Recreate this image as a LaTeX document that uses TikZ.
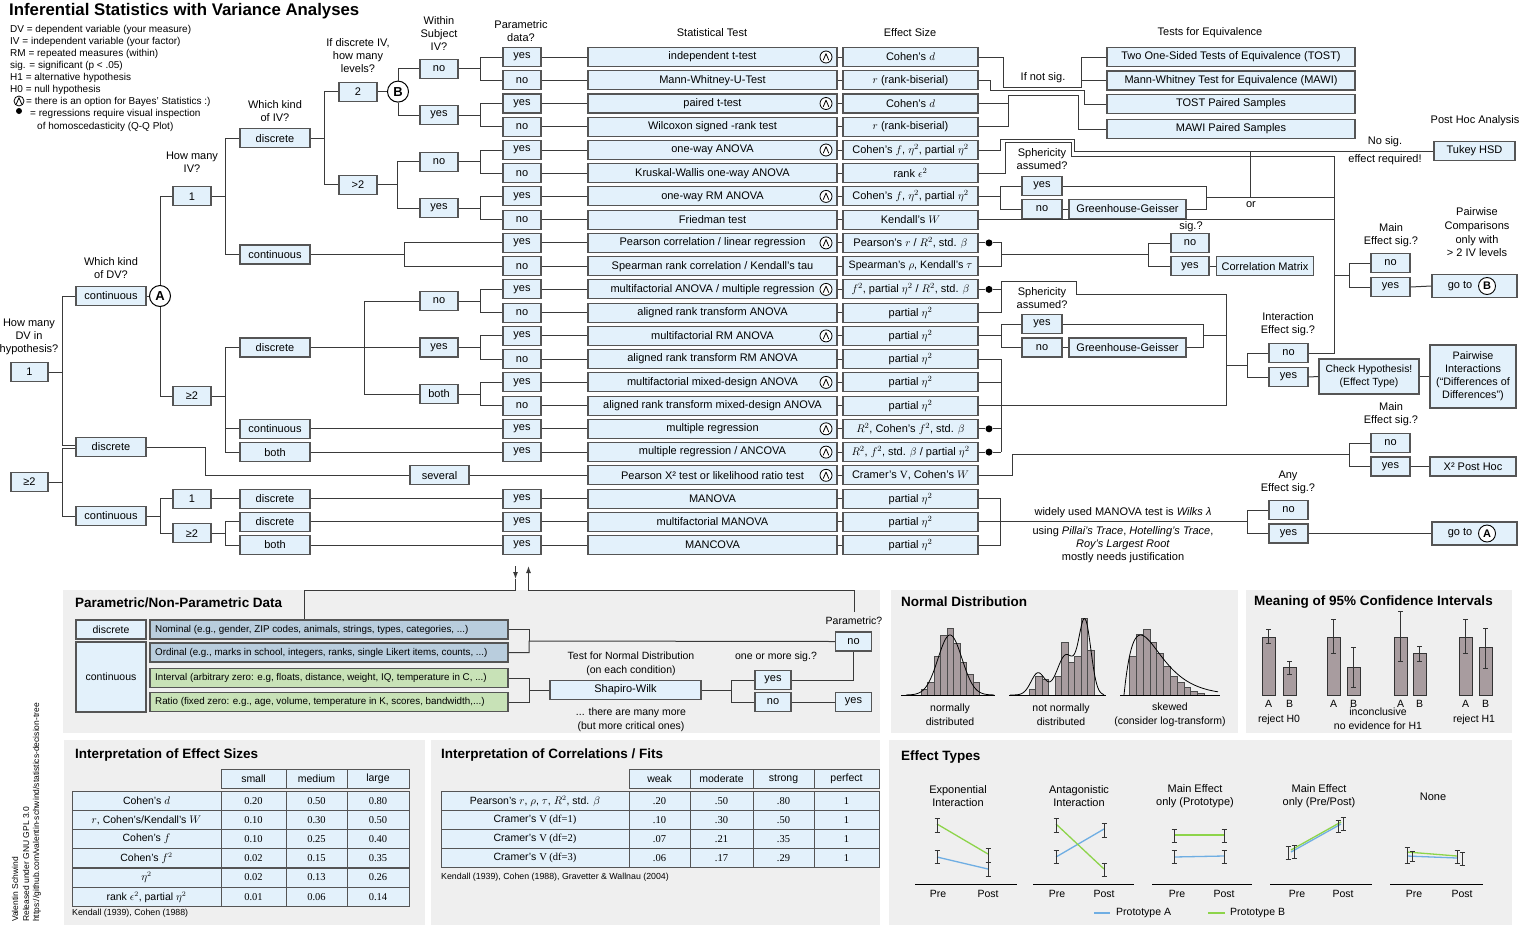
\documentclass[tikz,border=0pt]{standalone}
\usepackage{fontspec}
\setmainfont{Liberation Sans}
\newfontfamily\serif{Liberation Serif}
\usetikzlibrary{arrows.meta}
\definecolor{bf}{HTML}{E3F1FB}
\definecolor{bc}{HTML}{555555}
\definecolor{lc}{HTML}{3A3A3A}
\definecolor{panel}{HTML}{EFEFEF}
\definecolor{nomc}{HTML}{B9CDDD}
\definecolor{intc}{HTML}{C8E2B7}
\definecolor{barc}{HTML}{A89C9F}
\definecolor{protA}{HTML}{6FAEE3}
\definecolor{protB}{HTML}{8DD44A}
\newcommand\fs[2]{\fontsize{#1}{#2}\selectfont}
\newcommand\rowT[4]{%
  \node[box,minimum width=249pt] (t#1) at (712.5,#2) {#3};
  \node[box,minimum width=135pt] (e#1) at (910.5,#2) {#4};}
\newcommand\pnode[3]{\node[box,minimum width=38pt] (p#1) at (522,#2) {#3};}
\newcommand\ebar[3]{\draw[eb] (#1,#2) -- (#1,#3) (#1-2.5,#2) -- (#1+2.5,#2) (#1-2.5,#3) -- (#1+2.5,#3);}
\begin{document}
\begin{tikzpicture}[x=1pt,y=-1pt,
  ln/.style={draw=lc,line width=1pt},
  box/.style={draw=bc,fill=bf,line width=1.1pt,minimum height=19pt,inner sep=1pt,font=\fs{11}{13}},
  lab/.style={font=\fs{11}{13},align=center,inner sep=0pt},
  leg/.style={font=\fs{10}{11},anchor=west,inner sep=0pt},
  circ/.style={circle,draw=black,fill=white,line width=1pt,minimum size=21pt,inner sep=0pt,font=\bfseries\fs{13}{13}},
  bayes/.style={circle,draw=black,fill=white,line width=0.8pt,minimum size=12pt,inner sep=0pt,
    path picture={\draw[line width=0.8pt,line join=round] ([xshift=-2.8pt,yshift=-3.3pt]path picture bounding box.center) -- ([yshift=3.3pt]path picture bounding box.center) -- ([xshift=2.8pt,yshift=-3.3pt]path picture bounding box.center);}},
  dotn/.style={circle,fill=black,inner sep=0pt,minimum size=7pt},
  ptitle/.style={font=\bfseries\fs{13.5}{15},anchor=west,inner sep=0pt},
  small/.style={font=\fs{10.5}{14},align=center,inner sep=0pt},
  tcell/.style={draw=bc,fill=bf,line width=0.9pt,minimum height=19pt,inner sep=0pt,font=\fs{10.5}{11}},
  bar/.style={draw=black!70,fill=barc,line width=0.5pt},
  eb/.style={draw=black!80,line width=0.9pt},
  txt/.style={inner sep=0pt,anchor=west},
  pl/.style={line width=1.3pt}
]
\useasboundingbox (0,0) rectangle (1521,927);
\fill[white] (0,0) rectangle (1521,927);
% panels
\fill[panel] (63,590) rectangle (880,733);
\fill[panel] (891,590) rectangle (1238,733);
\fill[panel] (1246,590) rectangle (1512,733);
\fill[panel] (64,740) rectangle (425,925);
\fill[panel] (431,740) rectangle (880,925);
\fill[panel] (889,740) rectangle (1512,925);

% title & legend
\node[anchor=base west,font=\bfseries\fs{16.8}{18},inner sep=0pt] (title) at (9,15.5) {Inferential Statistics with Variance Analyses};
\node[leg] (lg1) at (10,30) {DV = dependent variable (your measure)};
\node[leg] (lg2) at (10,42) {IV = independent variable (your factor)};
\node[leg] (lg3) at (10,54) {RM = repeated measures (within)};
\node[leg] (lg4) at (10,66) {sig. = significant (p < .05)};
\node[leg] (lg5) at (10,78) {H1 = alternative hypothesis};
\node[leg] (lg6) at (10,90) {H0 = null hypothesis};
\node[bayes,minimum size=10pt] (lgb) at (19,101) {};
\node[leg] (lg7) at (26,101.5) {= there is an option for Bayes' Statistics :)};
\node[dotn,minimum size=6pt] (lgd) at (19,111) {};
\node[leg] (lg8) at (30,114) {= regressions require visual inspection};
\node[leg] (lg9) at (37,127) {of homoscedasticity (Q-Q Plot)};

% question labels
\node[lab] (q1l) at (29,336.5) {How many\\DV in\\hypothesis?};
\node[lab] (q2l) at (111,268.5) {Which kind\\of DV?};
\node[lab] (q3l) at (192,162.5) {How many\\IV?};
\node[lab] (q4l) at (275,111.5) {Which kind\\of IV?};
\node[lab] (q5l) at (358,56) {If discrete IV,\\how many\\levels?};
\node[lab] (q6l) at (439,34) {Within\\Subject\\IV?};
\node[lab] (q7l) at (521,31.5) {Parametric\\data?};
\node[lab] (q8l) at (712,33) {Statistical Test};
\node[lab] (q9l) at (910,33) {Effect Size};

% tree nodes
\node[box,minimum width=37pt] (dv1) at (29.5,372) {1};
\node[box,minimum width=37pt] (dv2) at (29.5,482) {≥2};
\node[box,minimum width=70pt] (k1) at (111,296) {continuous};
\node[box,minimum width=70pt] (k2) at (111,447) {discrete};
\node[box,minimum width=70pt] (k3) at (111,516) {continuous};
\node[circ] (A) at (160,296) {A};
\node[box,minimum width=38pt] (n1) at (192,196.4) {1};
\node[box,minimum width=38pt] (n2) at (192,396) {≥2};
\node[box,minimum width=38pt] (n3) at (192,498.6) {1};
\node[box,minimum width=38pt] (n4) at (192,533.4) {≥2};
\node[box,minimum width=70pt] (i1) at (275,138.4) {discrete};
\node[box,minimum width=70pt] (i2) at (275,254.5) {continuous};
\node[box,minimum width=70pt] (i3) at (275,347.5) {discrete};
\node[box,minimum width=70pt] (i4) at (275,428.8) {continuous};
\node[box,minimum width=70pt] (i5) at (275,452.1) {both};
\node[box,minimum width=70pt] (i6) at (275,498.6) {discrete};
\node[box,minimum width=70pt] (i7) at (275,521.8) {discrete};
\node[box,minimum width=70pt] (i8) at (275,545) {both};
\node[box,minimum width=38pt] (l1) at (358,91.6) {2};
\node[box,minimum width=38pt] (l2) at (358,184.8) {>2};
\node[circ] (B) at (398,91.6) {B};
\node[box,minimum width=38pt] (w1) at (439,68.6) {no};
\node[box,minimum width=38pt] (w2) at (439,115.1) {yes};
\node[box,minimum width=38pt] (w3) at (439,161.6) {no};
\node[box,minimum width=38pt] (w4) at (439,208) {yes};
\node[box,minimum width=38pt] (w5) at (439,301) {no};
\node[box,minimum width=38pt] (w6) at (439,347.5) {yes};
\node[box,minimum width=38pt] (w7) at (439,394) {both};
\node[box,minimum width=59pt] (sev) at (439.5,475.3) {several};

\pnode{1}{57}{yes} \pnode{2}{80.2}{no} \pnode{3}{103.5}{yes} \pnode{4}{126.7}{no}
\pnode{5}{150}{yes} \pnode{6}{173.2}{no} \pnode{7}{196.4}{yes} \pnode{8}{219.7}{no}
\pnode{9}{242.9}{yes} \pnode{10}{266.2}{no} \pnode{11}{289.4}{yes} \pnode{12}{312.6}{no}
\pnode{13}{335.9}{yes} \pnode{14}{359.1}{no} \pnode{15}{382.4}{yes} \pnode{16}{405.6}{no}
\pnode{17}{428.8}{yes} \pnode{18}{452.1}{yes} \pnode{20}{498.6}{yes} \pnode{21}{521.8}{yes}
\pnode{22}{545}{yes}

\rowT{1}{57}{independent t-test}{Cohen's $d$}
\rowT{2}{80.2}{Mann-Whitney-U-Test}{$r$ (rank-biserial)}
\rowT{3}{103.5}{paired t-test}{Cohen's $d$}
\rowT{4}{126.7}{Wilcoxon signed -rank test}{$r$ (rank-biserial)}
\rowT{5}{150}{one-way ANOVA}{Cohen's $f$, $\eta^2$, partial $\eta^2$}
\rowT{6}{173.2}{Kruskal-Wallis one-way ANOVA}{rank $\epsilon^2$}
\rowT{7}{196.4}{one-way RM ANOVA}{Cohen's $f$, $\eta^2$, partial $\eta^2$}
\rowT{8}{219.7}{Friedman test}{Kendall's $W$}
\rowT{9}{242.9}{Pearson correlation / linear regression\hspace{8pt}}{Pearson's $r$ / $R^2$, std. $\beta$}
\rowT{10}{266.2}{Spearman rank correlation / Kendall's tau}{\fs{10.7}{12}Spearman's $\rho$, Kendall's $\tau$}
\rowT{11}{289.4}{multifactorial ANOVA / multiple regression\hspace{8pt}}{$f^2$, partial $\eta^2$ / $R^2$, std. $\beta$}
\rowT{12}{312.6}{aligned rank transform ANOVA}{partial $\eta^2$}
\rowT{13}{335.9}{multifactorial RM ANOVA}{partial $\eta^2$}
\rowT{14}{359.1}{aligned rank transform RM ANOVA}{partial $\eta^2$}
\rowT{15}{382.4}{multifactorial mixed-design ANOVA}{partial $\eta^2$}
\rowT{16}{405.6}{aligned rank transform mixed-design ANOVA}{partial $\eta^2$}
\rowT{17}{428.8}{multiple regression}{$R^2$, Cohen's $f^2$, std. $\beta$}
\rowT{18}{452.1}{multiple regression / ANCOVA}{$R^2$, $f^2$, std. $\beta$ / partial $\eta^2$}
\rowT{19}{475.3}{Pearson X² test or likelihood ratio test}{Cramer's {\serif V}, Cohen's $W$}
\rowT{20}{498.6}{MANOVA}{partial $\eta^2$}
\rowT{21}{521.8}{multifactorial MANOVA}{partial $\eta^2$}
\rowT{22}{545}{MANCOVA}{partial $\eta^2$}

\foreach \r/\yy in {1/57,3/103.5,5/150,7/196.4,9/242.9,11/289.4,13/335.9,15/382.4,17/428.8,18/452.1,19/475.3}
  \node[bayes] (bs\r) at (826,\yy) {};

% tree edges
\draw[ln] (dv1.east) -- (62,372) |- ([yshift=1.5pt]k2.west);
\draw[ln] (62,372) |- (k1.west);
\draw[ln] (dv2.east) -- (62,482) |- ([yshift=-1.5pt]k2.west);
\draw[ln] (62,482) |- (k3.west);
\draw[ln] (k1.east) -- (A);
\draw[ln] (A.north) |- (n1.west);
\draw[ln] (A.south) |- (n2.west);
\draw[ln] (k3.east) -- (160,516) |- (n3.west);
\draw[ln] (160,516) |- (n4.west);
\draw[ln] (k2.east) -- (205,447) |- (sev.west);
\draw[ln] (n1.east) -- (225,196.4) |- (i1.west);
\draw[ln] (225,196.4) |- (i2.west);
\draw[ln] (n2.east) -- (225,396) |- (i3.west);
\draw[ln] (225,396) |- (i4.west);
\draw[ln] (225,396) |- (i5.west);
\draw[ln] (n3.east) -- (i6.west);
\draw[ln] (n4.east) -- (225,533.4) |- (i7.west);
\draw[ln] (225,533.4) |- (i8.west);
\draw[ln] (i1.east) -- (324,138.4) |- (l1.west);
\draw[ln] (324,138.4) |- (l2.west);
\draw[ln] (i2.east) -- (404,254.5) |- (p9.west);
\draw[ln] (404,254.5) |- (p10.west);
\draw[ln] (i3.east) -- (364,347.5) |- (w5.west);
\draw[ln] (364,347.5) |- (w7.west);
\draw[ln] (364,347.5) -- (w6.west);
\draw[ln] (i4.east) -- (p17.west);
\draw[ln] (i5.east) -- (p18.west);
\draw[ln] (i6.east) -- (p20.west);
\draw[ln] (i7.east) -- (p21.west);
\draw[ln] (i8.east) -- (p22.west);
\draw[ln] (l1.east) -- (B);
\draw[ln] (B.north) |- (w1.west);
\draw[ln] (B.south) |- (w2.west);
\draw[ln] (l2.east) -- (397,184.8) |- (w3.west);
\draw[ln] (397,184.8) |- (w4.west);
\foreach \w/\a/\b in {w1/p1/p2,w2/p3/p4,w3/p5/p6,w4/p7/p8,w5/p11/p12,w6/p13/p14,w7/p15/p16}
  \draw[ln] (\w.east) -- ++(22,0) coordinate (m) |- (\a.west) (m) |- (\b.west);
\foreach \i in {1,...,18,20,21,22} \draw[ln] (p\i.east) -- (t\i.west);
\draw[ln] (sev.east) -- (t19.west);
\foreach \i in {1,...,22} \draw[ln] (t\i.east) -- (e\i.west);

% equivalence
\node[lab] (teq) at (1210,33) {Tests for Equivalence};
\node[box,minimum width=248pt] (q1) at (1231,57) {Two One-Sided Tests of Equivalence (TOST)};
\node[box,minimum width=248pt] (q2) at (1231,80.5) {Mann-Whitney Test for Equivalence (MAWI)};
\node[box,minimum width=248pt] (q3) at (1231,104) {TOST Paired Samples};
\node[box,minimum width=248pt] (q4) at (1231,129) {MAWI Paired Samples};
\node[lab] (ins) at (1043,78) {If not sig.};
\draw[ln] (e1.east) -| (1003,87) -| (1081,57) -- (q1.west);
\draw[ln] (1081,80.5) -- (q2.west);
\draw[ln] (e2.east) -| (990,90) -| (1084,104) -- (q3.west);
\draw[ln] (e3.east) -| (1008,95) -| (1078,129) -- (q4.west);
\draw[ln] (e4.east) -| (1008,103.5);

% post hoc
\node[lab] (pha) at (1475,121) {Post Hoc Analysis};
\node[box,minimum width=81pt] (tk) at (1474.5,151) {Tukey HSD};
\node[lab] (nse1) at (1385,142) {No sig.};
\node[lab] (nse2) at (1385,160) {effect required!};
\draw[ln] (e5.east) -| (1000,139) -| (1074,151) -- (tk.west);
\draw[ln] (e6.east) -| (1005,142) -| (1071,156) -- (1334,156);

% sphericity 1
\node[lab] (sph1) at (1042,159.5) {Sphericity\\assumed?};
\node[box,minimum width=40pt] (s1y) at (1042,186) {yes};
\node[box,minimum width=40pt] (s1n) at (1042,209) {no};
\node[box,minimum width=117pt] (gg1) at (1127.5,209) {Greenhouse-Geisser};
\draw[ln] (e7.east) -- (1000,196.4);
\draw[ln] (1000,196.4) |- (s1y.west);
\draw[ln] (1000,196.4) |- (s1n.west);
\draw[ln] (s1n.east) -- (gg1.west);
\draw[ln] (s1y.east) -| (1206,197.5);
\draw[ln] (gg1.east) -| (1206,197.5) -- (1334,197.5);
\draw[ln] (1250,151) -- (1250,197.5);
\node[lab] (orl) at (1251,205) {or};
\draw[ln] (e8.east) -- (1334,219.7);

% correlation
\node[dotn] (d9) at (989,242.9) {};
\draw[ln] (e9.east) -- (d9) -- (1001,242.9) -- (1001,266.2) -- (e10.east);
\draw[ln] (1001,254.5) -- (1148,254.5);
\node[lab] (sigq) at (1191,227) {sig.?};
\node[box,minimum width=38pt] (cno) at (1190,243) {no};
\node[box,minimum width=38pt] (cyes) at (1190,266.2) {yes};
\node[box,minimum width=97pt] (cm) at (1265,266.2) {Correlation Matrix};
\draw[ln] (1148,254.5) |- (cno.west);
\draw[ln] (1148,254.5) |- (cyes.west);
\draw[ln] (cyes.east) -- (cm.west);

% multifactorial group
\node[dotn] (d11) at (989,289.4) {};
\draw[ln] (e11.east) -- (d11) -- (1001,289.4);
\draw[ln] (e12.east) -| (1001,281) -| (1076,294) -| (1226,405.6);
\node[lab] (sph2) at (1042,298.5) {Sphericity\\assumed?};
\node[box,minimum width=40pt] (s2y) at (1042,324) {yes};
\node[box,minimum width=40pt] (s2n) at (1042,347.5) {no};
\node[box,minimum width=117pt] (gg2) at (1127.5,347.5) {Greenhouse-Geisser};
\draw[ln] (e13.east) -- (1001,335.9);
\draw[ln] (1001,335.9) |- (s2y.west);
\draw[ln] (1001,335.9) |- (s2n.west);
\draw[ln] (s2n.east) -- (gg2.west);
\draw[ln] (s2y.east) -| (1203,335.9);
\draw[ln] (gg2.east) -| (1203,335.9) -- (1226,335.9);
\node[dotn] (d17) at (989,428.8) {};
\node[dotn] (d18) at (989,452.1) {};
\draw[ln] (e14.east) -- (1001,359.1) -- (1001,452.1);
\draw[ln] (e15.east) -- (1001,382.4);
\draw[ln] (e16.east) -- (1001,405.6) -- (1226,405.6);
\draw[ln] (e17.east) -- (d17) -- (1001,428.8);
\draw[ln] (e18.east) -- (d18) -- (1001,452.1);

% interaction
\node[lab] (ies) at (1288,324.5) {Interaction\\Effect sig.?};
\node[box,minimum width=39pt] (ino) at (1288.5,353) {no};
\node[box,minimum width=39pt] (iyes) at (1288.5,377) {yes};
\draw[ln] (1226,365) -- (1247,365);
\draw[ln] (1247,365) |- (ino.west);
\draw[ln] (1247,365) |- (iyes.west);
\draw[ln] (ino.east) -| (1334,156);
\node[box,minimum width=100pt,minimum height=35pt,align=center,font=\fs{10.4}{13}] (ch) at (1369,376.5) {Check Hypothesis!\\(Effect Type)};
\node[box,minimum width=86pt,minimum height=63pt,align=center,font=\fs{10.8}{13}] (pwi) at (1473,376.5) {Pairwise\\Interactions\\(“Differences of\\Differences”)};
\draw[ln] (iyes.east) -- (ch.west);
\draw[ln] (ch.east) -- (pwi.west);

% main effect 1
\node[lab] (mes1) at (1391,235.5) {Main\\Effect sig.?};
\node[box,minimum width=39pt] (m1no) at (1390.5,263) {no};
\node[box,minimum width=39pt] (m1yes) at (1390.5,287) {yes};
\draw[ln] (1334,275) -- (1349,275);
\draw[ln] (1349,275) |- (m1no.west);
\draw[ln] (1349,275) |- (m1yes.west);
\node[lab,font=\fs{11}{13.7}] (pco) at (1477,232.5) {Pairwise\\Comparisons\\only with\\> 2 IV levels};
\node[box,minimum width=85pt,minimum height=23pt] (gB) at (1474.5,286) {};
\node[lab] (gBt) at (1460,286) {go to};
\node[circ,minimum size=17pt,line width=0.9pt,font=\bfseries\fs{11}{11}] (gBc) at (1487,286) {B};
\draw[ln] (m1yes.east) -- (gB.west);

% chi square
\draw[ln] (e19.east) -| (1012,454) -- (1349,454);
\node[lab] (mes2) at (1391,414.5) {Main\\Effect sig.?};
\node[box,minimum width=39pt] (m2no) at (1390.5,443) {no};
\node[box,minimum width=39pt] (m2yes) at (1390.5,466.5) {yes};
\draw[ln] (1349,454) |- (m2no.west);
\draw[ln] (1349,454) |- (m2yes.west);
\node[box,minimum width=86pt] (xph) at (1473,466.5) {X² Post Hoc};
\draw[ln] (m2yes.east) -- (xph.west);

% MANOVA
\draw[ln] (e20.east) -- (1000,498.6) -- (1000,545) -- (e22.east);
\draw[ln] (e21.east) -- (1247,521.8);
\node[lab] (aes) at (1288,482.5) {Any\\Effect sig.?};
\node[box,minimum width=39pt] (ano) at (1288.5,510) {no};
\node[box,minimum width=39pt] (ayes) at (1288.5,533.5) {yes};
\draw[ln] (1247,521.8) |- (ano.west);
\draw[ln] (1247,521.8) |- (ayes.west);
\node[box,minimum width=85pt,minimum height=23pt] (gA) at (1474.5,533.5) {};
\node[lab] (gAt) at (1460,533.5) {go to};
\node[circ,minimum size=17pt,line width=0.9pt,font=\bfseries\fs{11}{11}] (gAc) at (1487,533.5) {A};
\draw[ln] (ayes.east) -- (gA.west);
\node[lab] (mw1) at (1123,513) {widely used MANOVA test is \textit{Wilks λ}};
\node[lab] (mw2) at (1123,545) {using \textit{Pillai's Trace}, \textit{Hotelling's Trace},\\\textit{Roy's Largest Root}\\mostly needs justification};

% arrows to bottom panel
\coordinate (ad1) at (515.5,566);
\coordinate (ad2) at (515.5,579);
\coordinate (au1) at (528.5,579);
\coordinate (au2) at (528.5,566);
\coordinate (nomtop) at (304,619.5);
\coordinate (partop) at (854,612);
\draw[ln] (ad2) -- (515.5,590) -| (nomtop);
\draw[ln] (au1) -- (528.5,590) -| (partop);
\draw[ln,-{Latex[length=7pt,width=5pt]}] (ad1) -- (ad2);
\draw[ln,-{Latex[length=7pt,width=5pt]}] (au1) -- (au2);

% panel 1
\node[ptitle] (pt1) at (75,603) {Parametric/Non-Parametric Data};
\node[box,minimum width=70pt,font=\fs{10.5}{11}] (pd) at (111,629.5) {discrete};
\node[box,minimum width=70pt,minimum height=70pt,font=\fs{10.5}{11}] (pc) at (111,677) {continuous};
\node[box,fill=nomc,minimum width=358pt] (nom) at (329,629.5) {};
\node[box,fill=nomc,minimum width=358pt] (ord) at (329,652.5) {};
\node[box,fill=intc,minimum width=358pt] (int) at (329,678) {};
\node[box,fill=intc,minimum width=358pt] (rat) at (329,702) {};
\node[txt,font=\fs{9.8}{10}] (nomt) at (155,629.5) {Nominal (e.g., gender, ZIP codes, animals, strings, types, categories, ...)};
\node[txt,font=\fs{9.8}{10}] (ordt) at (155,652.5) {Ordinal (e.g., marks in school, integers, ranks, single Likert items, counts, ...)};
\node[txt,font=\fs{9.8}{10}] (intt) at (155,678) {Interval (arbitrary zero: e.g, floats, distance, weight, IQ, temperature in C, ...)};
\node[txt,font=\fs{9.8}{10}] (ratt) at (155,702) {Ratio (fixed zero: e.g., age, volume, temperature in K, scores, bandwidth,...)};
\node[box,minimum width=151pt] (sw) at (625.5,690) {Shapiro-Wilk};
\node[small] (tnd) at (631,664) {Test for Normal Distribution\\(on each condition)};
\node[small] (tmm) at (631,719.5) {... there are many more\\(but more critical ones)};
\node[small] (oms) at (776,657) {one or more sig.?};
\node[small] (parq) at (854,621) {Parametric?};
\node[box,minimum width=36pt] (ny) at (773,680) {yes};
\node[box,minimum width=36pt] (nn) at (773,702) {no};
\node[box,minimum width=36pt] (pno) at (853.5,641.5) {no};
\node[box,minimum width=36pt] (pyes) at (853.5,702) {yes};
\draw[ln] (nom.east) -| (529,641);
\draw[ln] (ord.east) -| (529,641) -- (pno.west);
\draw[ln] (int.east) -| (529,690);
\draw[ln] (rat.east) -| (529,690) -- (sw.west);
\draw[ln] (sw.east) -- (731,690);
\draw[ln] (731,690) |- (ny.west);
\draw[ln] (731,690) |- (nn.west);
\draw[ln] (ny.east) -| (pno.south);
\draw[ln] (nn.east) -- (pyes.west);

% panel 2 normal distribution
\node[ptitle] (pt2) at (901,602) {Normal Distribution};
\foreach \h [count=\i] in {6,13,39,60,67,52,33,21,13}
  \draw[bar] ({921+(\i-1)*6.5},695) rectangle ++(6.5,-\h);
\foreach \xx/\h in {1029/6,1035.5/19,1042/16,1055/19,1061.5/53,1068/33,1074.5/39,1081/77,1087.5/45}
  \draw[bar] (\xx,695) rectangle ++(6.5,-\h);
\foreach \h [count=\i] in {39,61,66,53,42,29,19,13,8,4,2}
  \draw[bar] ({1129.5+(\i-1)*6.8},695) rectangle ++(6.8,-\h);
\draw[line width=0.8pt] plot[domain=906:994,samples=70,smooth] (\x,{695-60*exp(-((\x-950)/12)*((\x-950)/12)/2)});
\draw[line width=0.8pt] plot[domain=1010:1104,samples=90,smooth] (\x,{695-22*exp(max(-20,-((\x-1038)/7)*((\x-1038)/7)/2))-40*exp(max(-20,-((\x-1066)/9)*((\x-1066)/9)/2))-72*exp(max(-20,-((\x-1085)/6)*((\x-1085)/6)/2))});
\draw[line width=0.8pt] plot[domain=1124:1218,samples=80,smooth] (\x,{695-60*((\x-1124)/16.6)*exp(1-(\x-1124)/16.6)});
\draw[line width=0.9pt] (901,695) -- (995,695);
\draw[line width=0.9pt] (1009,695) -- (1106,695);
\draw[line width=0.9pt] (1120,695) -- (1220,695);
\node[small] (nd1) at (950,714.5) {normally\\distributed};
\node[small] (nd2) at (1061,714.5) {not normally\\distributed};
\node[small] (nd3) at (1170,714.5) {skewed\\(consider log-transform)};

% panel 3 confidence intervals
\node[ptitle] (pt3) at (1254,602) {Meaning of 95\% Confidence Intervals};
\foreach \xa/\top/\lo/\hi/\lt in {1262/637/629/643/A,1283/667/661/674/B,1327/637/619/653/A,1347/667/647/687/B,1394/637/611/661/A,1413/653/646/661/B,1459/637/619/653/A,1479/647/628/668/B}{
  \draw[bar,line width=0.8pt,draw=black!80] (\xa,695) rectangle ++(13,\top-695);
  \ebar{\xa+6.5}{\lo}{\hi}
  \node[inner sep=0pt,font=\fs{10.5}{11}] at (\xa+6.5,703.5) {\lt};
}
\node[small] (ci1) at (1279,720) {reject H0};
\node[small] (ci2) at (1378,719) {inconclusive\\no evidence for H1};
\node[small] (ci3) at (1474,720) {reject H1};

% panel 4 effect sizes
\node[ptitle] (pt4) at (75,755) {Interpretation of Effect Sizes};
\node[tcell,minimum width=65pt] (esh1) at (253.5,779) {small};
\node[tcell,minimum width=61pt] (esh2) at (316.5,779) {medium};
\node[tcell,minimum width=62pt] (esh3) at (378,779) {large};
\foreach \yy/\lab/\a/\b/\c [count=\r] in {801/{Cohen's $d$}/0.20/0.50/0.80, 820/{$r$, Cohen's/Kendall's $W$}/0.10/0.30/0.50, 839/{Cohen's $f$}/0.10/0.25/0.40, 858/{Cohen's $f^2$}/0.02/0.15/0.35, 877.5/{$\eta^2$}/0.02/0.13/0.26, 897/{rank $\epsilon^2$, partial $\eta^2$}/0.01/0.06/0.14}{
  \node[tcell,minimum width=149pt] (esl\r) at (146.5,\yy) {\lab};
  \node[tcell,minimum width=65pt,font=\serif\fs{10.5}{11}] (esa\r) at (253.5,\yy) {\a};
  \node[tcell,minimum width=61pt,font=\serif\fs{10.5}{11}] (esb\r) at (316.5,\yy) {\b};
  \node[tcell,minimum width=62pt,font=\serif\fs{10.5}{11}] (esc\r) at (378,\yy) {\c};
}
\node[txt,font=\fs{8.8}{9}] (escit) at (72,913) {Kendall (1939), Cohen (1988)};

% panel 5 correlations
\node[ptitle] (pt5) at (441,755) {Interpretation of Correlations / Fits};
\node[tcell,minimum width=61pt] (coh1) at (659.5,779) {weak};
\node[tcell,minimum width=63pt] (coh2) at (721.5,779) {moderate};
\node[tcell,minimum width=61pt] (coh3) at (783.5,779) {strong};
\node[tcell,minimum width=65pt] (coh4) at (846.5,779) {perfect};
\foreach \yy/\lab/\a/\b/\c [count=\r] in {801/{Pearson's $r$, $\rho$, $\tau$, $R^2$, std. $\beta$}/.20/.50/.80, 820/{Cramer's {\serif V (df=1)}}/.10/.30/.50, 839/{Cramer's {\serif V (df=2)}}/.07/.21/.35, 858/{Cramer's {\serif V (df=3)}}/.06/.17/.29}{
  \node[tcell,minimum width=188pt] (col\r) at (535,\yy) {\lab};
  \node[tcell,minimum width=61pt,font=\serif\fs{10.5}{11}] (coa\r) at (659.5,\yy) {\a};
  \node[tcell,minimum width=63pt,font=\serif\fs{10.5}{11}] (cob\r) at (721.5,\yy) {\b};
  \node[tcell,minimum width=61pt,font=\serif\fs{10.5}{11}] (coc\r) at (783.5,\yy) {\c};
  \node[tcell,minimum width=65pt,font=\serif\fs{10.5}{11}] (cod\r) at (846.5,\yy) {1};
}
\node[txt,font=\fs{8.8}{9}] (cocit) at (441,877) {Kendall (1939), Cohen (1988), Gravetter \& Wallnau (2004)};

% panel 6 effect types
\node[ptitle] (pt6) at (901,757) {Effect Types};
\node[small,font=\fs{11}{13}] (et1) at (958,796.5) {Exponential\\Interaction};
\node[small,font=\fs{11}{13}] (et2) at (1079,796.5) {Antagonistic\\Interaction};
\node[small,font=\fs{11}{13}] (et3) at (1195,796.5) {Main Effect\\only (Prototype)};
\node[small,font=\fs{11}{13}] (et4) at (1319,796.5) {Main Effect\\only (Pre/Post)};
\node[small,font=\fs{11}{13}] (et5) at (1433,797) {None};
\foreach \xa/\xb/\pre/\post in {915/1017/938/988,1033/1134/1057/1104,1152/1252/1177/1224,1270/1372/1297/1343,1390/1483/1414/1462}{
  \draw[line width=1pt] (\xa,884) -- (\xb,884);
  \node[inner sep=0pt,font=\fs{10.5}{11}] at (\pre,894) {Pre};
  \node[inner sep=0pt,font=\fs{10.5}{11}] at (\post,894) {Post};
}
\draw[pl,draw=protA] (937,857) -- (988,869);
\draw[pl,draw=protB] (937,824) -- (988,854);
\ebar{937}{818}{832} \ebar{937}{850}{863} \ebar{988}{848}{862} \ebar{988}{862}{876}
\draw[pl,draw=protA] (1056,857) -- (1104,829);
\draw[pl,draw=protB] (1056,824) -- (1104,869);
\ebar{1056}{818}{832} \ebar{1056}{850}{863} \ebar{1104}{823}{837} \ebar{1104}{863}{876}
\draw[pl,draw=protB] (1174,835) -- (1224,835);
\draw[pl,draw=protA] (1174,857) -- (1224,856);
\ebar{1174}{829}{842} \ebar{1224}{829}{842} \ebar{1174}{850}{863} \ebar{1224}{850}{863}
\draw[pl,draw=protA] (1291,852) -- (1341,824);
\draw[pl,draw=protB] (1291,850) -- (1341,822);
\ebar{1288}{846}{859} \ebar{1294}{845}{858} \ebar{1338}{820}{832} \ebar{1343}{817}{830}
\draw[pl,draw=protA] (1407,856) -- (1457,858);
\draw[pl,draw=protB] (1407,852) -- (1457,856);
\ebar{1407}{847}{863} \ebar{1412}{851}{861} \ebar{1457}{850}{863} \ebar{1462}{852}{865}
\draw[pl,draw=protA] (1094,913) -- (1110,913);
\node[txt,font=\fs{10.5}{11}] (lpa) at (1116,913) {Prototype A};
\draw[pl,draw=protB] (1208,913) -- (1225,913);
\node[txt,font=\fs{10.5}{11}] (lpb) at (1230,913) {Prototype B};

% author
\node[rotate=90,anchor=west,font=\fs{8.5}{9},inner sep=0pt] (au1t) at (15,922) {Valentin Schwind};
\node[rotate=90,anchor=west,font=\fs{8.5}{9},inner sep=0pt] (au2t) at (26,922) {Released under GNU GPL 3.0};
\node[rotate=90,anchor=west,font=\fs{8.5}{9},inner sep=0pt] (au3t) at (37,922) {https://github.com/valentin-schwind/statistics-decision-tree};
\end{tikzpicture}
\end{document}
